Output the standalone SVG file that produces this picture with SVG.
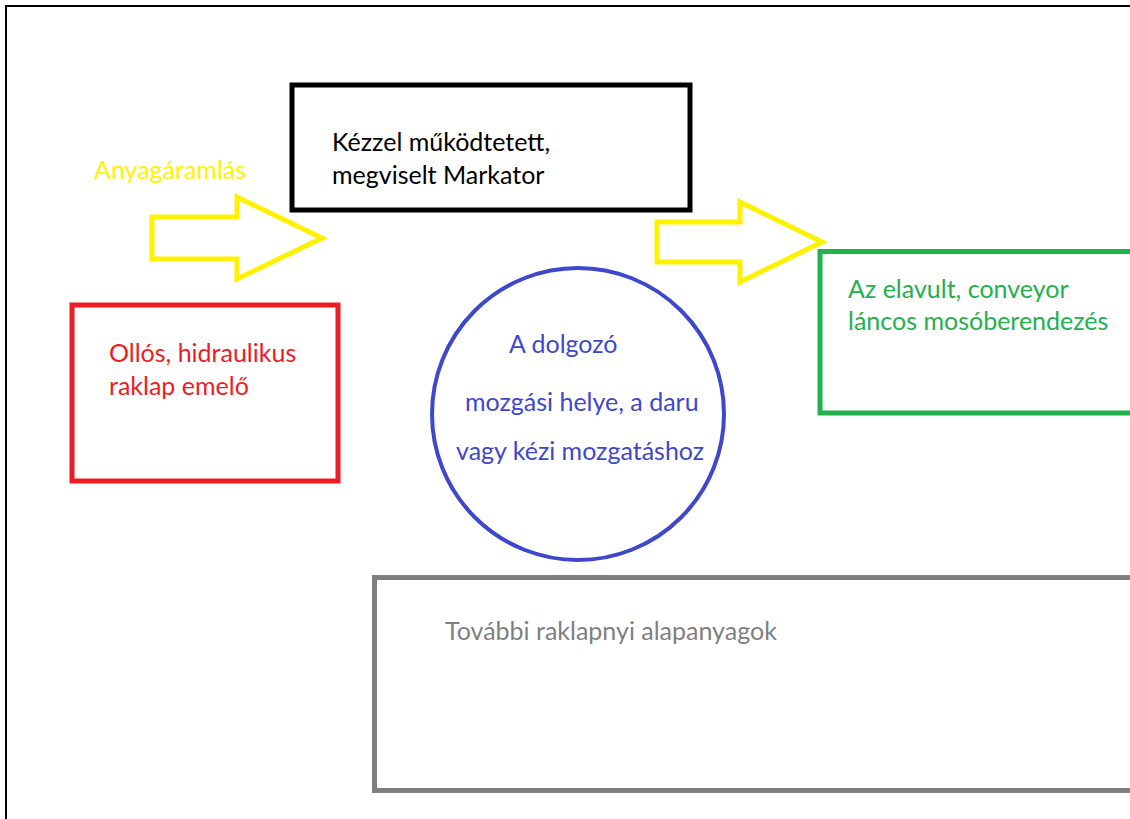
<svg xmlns="http://www.w3.org/2000/svg" width="1130" height="819" viewBox="0 0 1130 819">
<style>
  .t { font-family: Lato, "Open Sans", "Liberation Sans", sans-serif; font-size: 25px; }
  .box { fill: none; stroke-width: 5; }
  .arrow { fill: none; stroke: #fff200; stroke-width: 5; stroke-linejoin: miter; }
</style>
<rect x="0" y="0" width="1130" height="819" fill="#ffffff"/>
<g id="frame">
  <path d="M6,819 L6,6 L1130,6" fill="none" stroke="#000000" stroke-width="2"/>
</g>
<g id="connectors">
  <path class="arrow" d="M152,217 L237,217 L237,197 L322,238 L237,279 L237,259 L152,259 Z"/>
  <path class="arrow" d="M657,222 L740,222 L740,202 L822,242 L740,282 L740,262 L657,262 Z"/>
  <text class="t" x="94" y="179" fill="#fff200">Anyagáramlás</text>
</g>
<g id="markator">
  <rect class="box" x="292" y="85" width="398" height="125" stroke="#000000"/>
  <text class="t" x="332" y="151" fill="#000000">Kézzel működtetett,</text>
  <text class="t" x="332" y="184" fill="#000000">megviselt Markator</text>
</g>
<g id="emelo">
  <rect class="box" x="72" y="305" width="266" height="176" stroke="#ed1c24"/>
  <text class="t" x="109" y="362" fill="#ed1c24">Ollós, hidraulikus</text>
  <text class="t" x="109" y="395" fill="#ed1c24">raklap emelő</text>
</g>
<g id="dolgozo">
  <circle cx="578" cy="414" r="146" fill="none" stroke="#3f48cc" stroke-width="4"/>
  <text class="t" x="509" y="353" fill="#3f48cc">A dolgozó</text>
  <text class="t" x="465" y="411" fill="#3f48cc">mozgási helye, a daru</text>
  <text class="t" x="456" y="460" fill="#3f48cc">vagy kézi mozgatáshoz</text>
</g>
<g id="moso">
  <path class="box" d="M1132,251.5 L820,251.5 L820,413 L1132,413" stroke="#22b14c"/>
  <text class="t" x="848" y="298" fill="#22b14c">Az elavult, conveyor</text>
  <text class="t" x="848" y="330" fill="#22b14c">láncos mosóberendezés</text>
</g>
<g id="alapanyag">
  <path class="box" d="M1132,577.5 L374.5,577.5 L374.5,790.5 L1132,790.5" stroke="#7f7f7f"/>
  <text class="t" x="445" y="640" fill="#7f7f7f">További raklapnyi alapanyagok</text>
</g>
</svg>
